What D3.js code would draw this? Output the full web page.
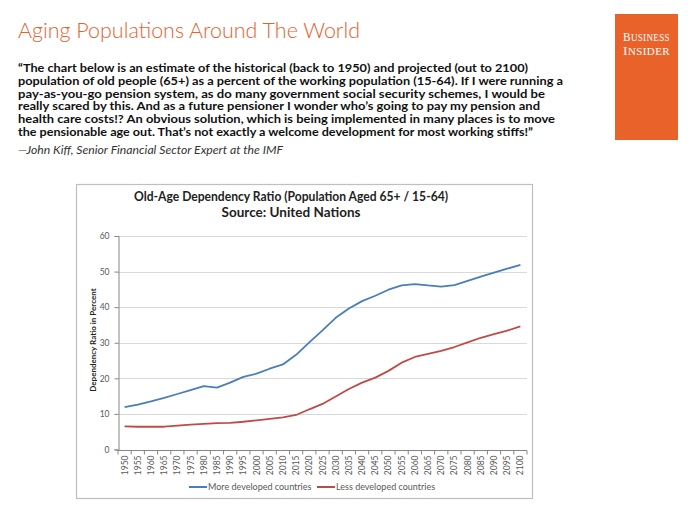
<!DOCTYPE html>
<html>
<head>
<meta charset="utf-8">
<script src="https://cdn.jsdelivr.net/npm/d3@7/dist/d3.min.js"></script>
<style>
  html, body { margin: 0; padding: 0; background: #fff; }
  svg { display: block; }
</style>
</head>
<body>
<svg id="chart" width="700" height="525"></svg>
<script>
const years = [1950,1955,1960,1965,1970,1975,1980,1985,1990,1995,2000,2005,2010,2015,2020,2025,2030,2035,2040,2045,2050,2055,2060,2065,2070,2075,2080,2085,2090,2095,2100];
const moreDeveloped = [11.9,12.6,13.5,14.5,15.6,16.7,17.8,17.4,18.8,20.4,21.3,22.7,23.9,26.6,30.1,33.5,37.0,39.6,41.7,43.2,44.9,46.1,46.5,46.1,45.8,46.2,47.4,48.6,49.7,50.8,51.9];
const lessDeveloped = [6.5,6.4,6.4,6.4,6.7,7.0,7.2,7.4,7.5,7.8,8.2,8.6,9.0,9.7,11.3,12.8,14.9,17.0,18.8,20.2,22.1,24.4,26.0,26.9,27.7,28.8,30.1,31.4,32.4,33.4,34.6];
const yTicks = [0,10,20,30,40,50,60];
const seriesNames = ["More developed countries", "Less developed countries"];
const seriesColors = ["#4a7ebb", "#be4b48"];

const quoteLines = [
  "\u201CThe chart below is an estimate of the historical (back to 1950) and projected (out to 2100)",
  "population of old people (65+) as a percent of the working population (15-64). If I were running a",
  "pay-as-you-go pension system, as do many government social security schemes, I would be",
  "really scared by this. And as a future pensioner I wonder who\u2019s going to pay my pension and",
  "health care costs!? An obvious solution, which is being implemented in many places is to move",
  "the pensionable age out. That\u2019s not exactly a welcome development for most working stiffs!\u201D"
];
const quoteWidths = [510, 545, 527, 522, 537, 515];

const svg = d3.select("#chart");
const orange = "#e8612c";

// Page title
svg.append("text")
  .attr("x", 18).attr("y", 38)
  .attr("font-family", "Lato, 'Open Sans', sans-serif")
  .attr("font-size", 21).attr("font-weight", 300)
  .attr("fill", orange)
  .attr("textLength", 342).attr("lengthAdjust", "spacingAndGlyphs")
  .text("Aging Populations Around The World");

// Logo
svg.append("rect").attr("x", 615).attr("y", 14).attr("width", 63).attr("height", 126).attr("fill", "#e8622a");
const logoFont = "'Liberation Serif', 'DejaVu Serif', serif";
[["B", "USINESS", 41], ["I", "NSIDER", 55]].forEach(([cap, rest, yy]) => {
  const t = svg.append("text").attr("x", 646.5).attr("y", yy).attr("text-anchor", "middle")
    .attr("font-family", logoFont).attr("fill", "#fff").attr("letter-spacing", 0.4)
    .attr("textLength", 47).attr("lengthAdjust", "spacingAndGlyphs");
  t.append("tspan").attr("font-size", 12.5).text(cap);
  t.append("tspan").attr("font-size", 10).text(rest);
});

// Quote
quoteLines.forEach((line, i) => {
  svg.append("text")
    .attr("x", 18).attr("y", 72 + i * 12.8)
    .attr("font-family", "Lato, 'Open Sans', sans-serif")
    .attr("font-size", 10.6).attr("font-weight", "bold").attr("fill", "#111")
    .attr("textLength", quoteWidths[i]).attr("lengthAdjust", "spacingAndGlyphs")
    .text(line);
});
svg.append("text")
  .attr("x", 18).attr("y", 154)
  .attr("font-family", "Lato, 'Open Sans', sans-serif")
  .attr("font-size", 10.5).attr("font-style", "italic").attr("fill", "#333")
  .attr("textLength", 265).attr("lengthAdjust", "spacingAndGlyphs")
  .text("\u2014John Kiff, Senior Financial Sector Expert at the IMF");

// Chart frame
svg.append("rect").attr("x", 76.5).attr("y", 184.5).attr("width", 456).attr("height", 314)
  .attr("fill", "#fff").attr("stroke", "#bfbfbf").attr("stroke-width", 1.2);

const chartFont = "Lato, 'Open Sans', sans-serif";
svg.append("text").attr("x", 291).attr("y", 201).attr("text-anchor", "middle")
  .attr("font-family", chartFont).attr("font-size", 13.5).attr("font-weight", "bold").attr("fill", "#222")
  .attr("textLength", 314).attr("lengthAdjust", "spacingAndGlyphs")
  .text("Old-Age Dependency Ratio (Population Aged 65+ / 15-64)");
svg.append("text").attr("x", 291).attr("y", 217).attr("text-anchor", "middle")
  .attr("font-family", chartFont).attr("font-size", 13.5).attr("font-weight", "bold").attr("fill", "#222")
  .text("Source: United Nations");

const x = d3.scaleBand().domain(years).range([118, 527]).padding(0);
const y = d3.scaleLinear().domain([0, 60]).range([449.5, 236]);

// gridlines
svg.append("g").selectAll("line").data(yTicks.filter(d => d > 0)).join("line")
  .attr("x1", 118).attr("x2", 527)
  .attr("y1", d => Math.round(y(d)) + 0.5).attr("y2", d => Math.round(y(d)) + 0.5)
  .attr("stroke", "#d9d9d9").attr("stroke-width", 1);

// y axis
const yAxis = d3.axisLeft(y).tickValues(yTicks).tickSize(4).tickPadding(5);
const gy = svg.append("g").attr("transform", "translate(118.5,0)").call(yAxis);
gy.selectAll("path,line").attr("stroke", "#868686");
gy.selectAll("text").attr("font-family", chartFont).attr("font-size", 8.5).attr("fill", "#595959");

// x axis
const gx = svg.append("g").attr("transform", `translate(0,${Math.round(y(0)) + 0.5})`);
gx.append("line").attr("x1", 118).attr("x2", 527).attr("stroke", "#868686");
gx.selectAll("line.tick").data(years.concat([null])).join("line").attr("class", "tick")
  .attr("x1", d => d === null ? 527 : x(d)).attr("x2", d => d === null ? 527 : x(d))
  .attr("y1", 0).attr("y2", 4).attr("stroke", "#868686");
gx.selectAll("text").data(years).join("text")
  .attr("transform", d => `translate(${x(d) + x.bandwidth() / 2 + 3},5) rotate(-90)`)
  .attr("text-anchor", "end")
  .attr("font-family", chartFont).attr("font-size", 8.5).attr("fill", "#595959")
  .text(d => d);

// y axis title
svg.append("text").attr("transform", "translate(96,340) rotate(-90)")
  .attr("text-anchor", "middle").attr("font-family", chartFont).attr("font-size", 8)
  .attr("font-weight", "bold").attr("fill", "#222")
  .text("Dependency Ratio in Percent");

// lines
const line = d3.line().x((d, i) => x(years[i]) + x.bandwidth() / 2).y(d => y(d));
[moreDeveloped, lessDeveloped].forEach((s, i) => {
  svg.append("path").datum(s).attr("d", line)
    .attr("fill", "none").attr("stroke", seriesColors[i]).attr("stroke-width", 1.8)
    .attr("stroke-linejoin", "round");
});

// legend
const legendX = [189, 317];
seriesNames.forEach((n, i) => {
  svg.append("line").attr("x1", legendX[i]).attr("x2", legendX[i] + 18)
    .attr("y1", 487).attr("y2", 487).attr("stroke", seriesColors[i]).attr("stroke-width", 2);
  svg.append("text").attr("x", legendX[i] + 19).attr("y", 490)
    .attr("font-family", chartFont).attr("font-size", 9).attr("fill", "#595959")
    .text(n);
});
</script>
</body>
</html>
